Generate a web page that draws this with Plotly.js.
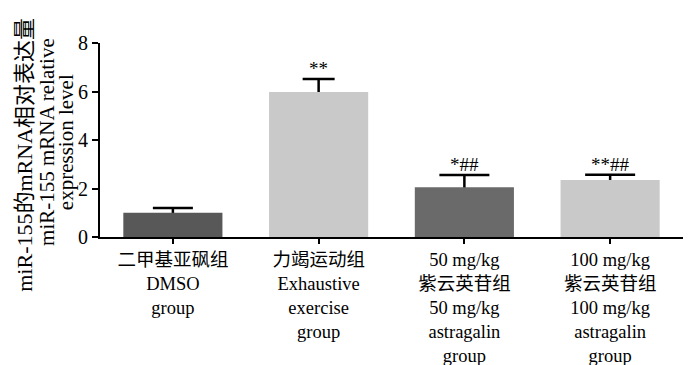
<!DOCTYPE html>
<html>
<head>
<meta charset="utf-8">
<script src="https://cdn.plot.ly/plotly-3.0.1.min.js"></script>
<style>html,body{margin:0;padding:0;background:#fff;}#chart{width:700px;height:365px;}</style>
</head>
<body>
<div id="chart"></div>
<script>
const categories = [
  "二甲基亚砜组<br>DMSO<br>group",
  "力竭运动组<br>Exhaustive<br>exercise<br>group",
  "50 mg/kg<br>紫云英苷组<br>50 mg/kg<br>astragalin<br>group",
  "100 mg/kg<br>紫云英苷组<br>100 mg/kg<br>astragalin<br>group"
];
const values = [1.0, 5.98, 2.05, 2.35];
const errors = [0.2, 0.54, 0.51, 0.22];
const significance = ["", "**", "*##", "**##"];
const yTickVals = [0, 2, 4, 6, 8];
const yTitleCN = "miR-155的mRNA相对表达量";
const yTitleEN1 = "miR-155 mRNA relative";
const yTitleEN2 = "expression level";

const barColors = ["#585858", "#c9c9c9", "#6a6a6a", "#c9c9c9"];
const capWidths = [20, 16, 25, 25];
const FONT = "'Liberation Serif', 'Times New Roman', 'Noto Sans CJK SC', serif";

const traces = [];
categories.forEach((c, i) => {
  traces.push({
    type: 'bar', x: [c], y: [values[i]], width: 0.68,
    marker: {color: 'rgba(0,0,0,0)'},
    error_y: {type: 'data', array: [errors[i]], visible: true, width: capWidths[i], thickness: 2.5, color: '#000'},
    hoverinfo: 'skip', showlegend: false
  });
});
traces.push({
  type: 'bar', x: categories, y: values, width: 0.68,
  marker: {color: barColors, line: {width: 0}},
  showlegend: false
});

const annotations = significance.map((s, i) => ({
  x: categories[i], y: values[i] + errors[i], xref: 'x', yref: 'y',
  text: s, showarrow: false, yanchor: 'bottom', yshift: -2,
  font: {family: FONT, size: 19, color: '#000'}
})).filter(a => a.text !== "");

annotations.push(
  {xref: 'paper', yref: 'paper', x: -0.13, y: 0.425, text: yTitleCN, textangle: -90, showarrow: false,
   xanchor: 'center', yanchor: 'middle', font: {family: FONT, size: 22, color: '#000'}},
  {xref: 'paper', yref: 'paper', x: -0.091, y: 0.49, text: yTitleEN1, textangle: -90, showarrow: false,
   xanchor: 'center', yanchor: 'middle', font: {family: FONT, size: 21, color: '#000'}},
  {xref: 'paper', yref: 'paper', x: -0.058, y: 0.49, text: yTitleEN2, textangle: -90, showarrow: false,
   xanchor: 'center', yanchor: 'middle', font: {family: FONT, size: 21, color: '#000'}}
);

const layout = {
  width: 700, height: 365,
  margin: {l: 100, r: 17, t: 43, b: 128, pad: 0},
  paper_bgcolor: '#fff', plot_bgcolor: '#fff',
  barmode: 'overlay',
  font: {family: FONT, color: '#000'},
  xaxis: {
    type: 'category', range: [-0.5, 3.5],
    showline: true, linewidth: 2, linecolor: '#000',
    ticks: 'outside', ticklen: 5, tickwidth: 2, tickcolor: '#000',
    tickfont: {family: FONT, size: 18.5, color: '#000'},
    showgrid: false, zeroline: false, fixedrange: true
  },
  yaxis: {
    range: [0, 8], tickvals: yTickVals, ticktext: yTickVals.map(String),
    showline: true, linewidth: 2, linecolor: '#000',
    ticks: 'outside', ticklen: 6, tickwidth: 2, tickcolor: '#000',
    tickfont: {family: FONT, size: 20, color: '#000'},
    showgrid: false, zeroline: false, fixedrange: true
  },
  annotations: annotations
};

Plotly.newPlot('chart', traces, layout, {staticPlot: true, displayModeBar: false});
</script>
</body>
</html>
